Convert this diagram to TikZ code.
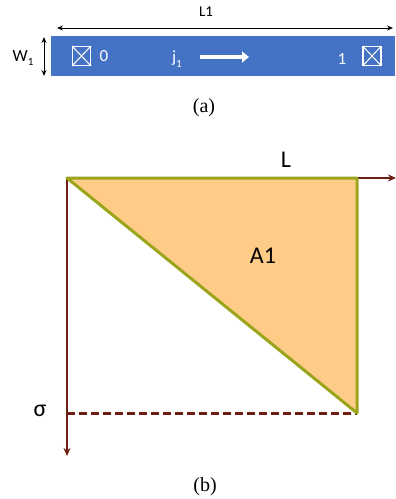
\documentclass[tikz,border=0pt]{standalone}
\usepackage{fontspec}
\setmainfont{Liberation Serif}
\newfontfamily\calib{Carlito}
\usetikzlibrary{arrows.meta}
\definecolor{barblue}{HTML}{4472C4}
\definecolor{triorange}{HTML}{FFCC88}
\definecolor{olive}{HTML}{9AA51C}
\definecolor{axisred}{HTML}{6E1E12}
\tikzset{
  lab/.style={font=\calib\fontsize{17}{19}\selectfont, inner sep=0pt},
  blab/.style={font=\calib\fontsize{24}{27}\selectfont, inner sep=0pt},
  captext/.style={font=\fontsize{20}{22}\selectfont, inner sep=0pt},
  crossbox/.style={draw=white, line width=1.2pt, minimum width=18pt, minimum height=19pt, inner sep=0pt},
  axis/.style={draw=axisred, line width=1.4pt, -{Stealth[length=8pt,width=7pt]}},
}
\newcommand{\subone}{\raisebox{-0.28em}{\fontsize{11}{12}\selectfont 1}}
\begin{document}
\begin{tikzpicture}[x=1pt,y=-1pt]
\useasboundingbox (0,0) rectangle (396,499);
% (a)
\node[fill=barblue, minimum width=344pt, minimum height=40pt, inner sep=0pt, anchor=north west] (bar) at (51,36) {};
\coordinate (l1a) at (57,28);
\coordinate (l1b) at (393,28);
\draw[{Stealth[length=6pt,width=5pt]}-{Stealth[length=6pt,width=5pt]}, line width=1pt] (l1a) -- (l1b);
\node[lab, font=\calib\fontsize{15}{17}\selectfont] (L1) at (206,12) {L1};
\coordinate (w1a) at (44,37);
\coordinate (w1b) at (44,76);
\draw[{Stealth[length=6pt,width=5pt]}-{Stealth[length=6pt,width=5pt]}, line width=1pt] (w1a) -- (w1b);
\node[lab] (W1) at (23,58) {W\subone};
\node[crossbox] (c0) at (81.5,56) {};
\draw[white, line width=1pt] (c0.north west) -- (c0.south east) (c0.north east) -- (c0.south west);
\node[crossbox] (c1) at (372,56) {};
\draw[white, line width=1pt] (c1.north west) -- (c1.south east) (c1.north east) -- (c1.south west);
\node[lab, text=white] (t0) at (104,56) {0};
\node[lab, text=white] (t1) at (342,59) {1};
\node[lab, text=white] (j1) at (177,59) {j\subone};
\coordinate (ja) at (200,57);
\coordinate (jb) at (249,57);
\draw[white, line width=4pt, -{Triangle[length=7pt,width=11pt]}] (ja) -- (jb);
\node[captext] (capa) at (204,108) {(a)};
% (b)
\coordinate (O) at (67,178);
\coordinate (TR) at (357,178);
\coordinate (BR) at (357,413);
\coordinate (BL) at (67,413);
\coordinate (xend) at (396,178);
\coordinate (yend) at (67,456);
\fill[triorange] (O) -- (TR) -- (BR) -- cycle;
\draw[axis] (O) -- (xend);
\draw[axis] (O) -- (yend);
\draw[axisred, line width=3pt, dash pattern=on 8pt off 4pt] (BL) -- (BR);
\draw[olive, line width=3pt, line join=round] (O) -- (TR) -- (BR) -- cycle;
\node[blab] (L) at (286,160) {L};
\node[blab] (A1) at (263,256) {A1};
\node[blab] (sig) at (40,411) {σ};
\node[captext] (capb) at (205,487) {(b)};
\end{tikzpicture}
\end{document}
